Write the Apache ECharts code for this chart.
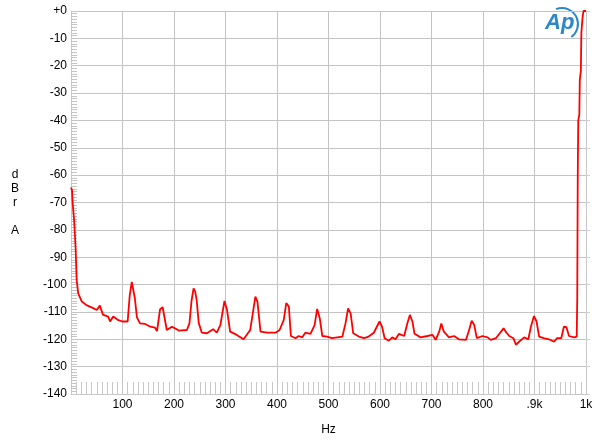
<!DOCTYPE html>
<html>
<head>
<meta charset="utf-8">
<script src="https://cdn.jsdelivr.net/npm/echarts@6/dist/echarts.min.js"></script>
<style>html,body{margin:0;padding:0;background:#fff;}#c{width:600px;height:441px;}</style>
</head>
<body>
<div id="c"></div>
<script>
var freqHz = [0,2,3,5,6,8,9,11,14,21,30,43,50,56,62,72,76,82,92,100,110,114,118,121,124,128,134,144,154,163,167,173,178,181,186,196,202,209,225,230,234,238,241,244,248,254,264,276,283,290,298,303,309,322,335,348,353,358,362,368,381,397,405,413,418,423,427,436,442,449,455,465,473,478,483,488,497,507,517,527,533,538,543,548,559,569,578,588,599,604,609,617,624,630,637,647,653,658,663,667,679,692,702,708,715,719,724,734,744,753,767,773,778,783,788,799,809,815,825,835,840,844,851,859,864,870,880,888,893,899,904,909,918,928,938,944,952,957,962,967,977,982,983,984,985,987,988,990,991,993,995,1000];
var levelDb = [-64.5,-65.5,-69.7,-70,-76.4,-77,-86.7,-98.3,-103.2,-106.2,-107.5,-108.6,-109.3,-107.7,-111,-111.7,-113.5,-111.7,-113,-113.5,-113.5,-104,-99,-99.5,-105,-112,-114.2,-114.4,-115.4,-115.7,-117,-109,-108.3,-109,-116.6,-115.4,-116,-116.8,-116.6,-114.2,-106,-101.4,-102.5,-105.6,-114,-117.6,-117.8,-116.3,-117.6,-114.8,-106,-109.3,-117.2,-118.4,-120,-116.6,-110.5,-104.4,-106.2,-117.2,-117.6,-117.6,-116.6,-113,-106.8,-108,-118.8,-119.6,-118.8,-119.3,-117.6,-118,-114.8,-108.9,-112.3,-118.8,-119,-119.6,-119.3,-119,-114.2,-108.7,-110.5,-117.8,-119,-119.6,-119,-117.6,-113.5,-115.4,-119.6,-120.5,-119.3,-120,-118,-118.8,-114.2,-111.1,-113.5,-118,-119.3,-118.8,-118.4,-120.2,-117.2,-114.2,-117.2,-119.3,-118.8,-120,-120.2,-116.6,-113.2,-114.8,-119.6,-118.8,-119.3,-120.2,-119.6,-117.2,-116,-117.2,-118.8,-119.6,-122,-120.9,-119.3,-120,-115.4,-111.5,-113.5,-119,-119.6,-120,-120.9,-119.6,-119.6,-115.4,-115.6,-118.8,-119.3,-119,-105,-60,-40,-38,-25,-22,-8,-3,0,0];
var xTicks = {100:'100',200:'200',300:'300',400:'400',500:'500',600:'600',700:'700',800:'800',900:'.9k',1000:'1k'};
var yTickLabel0 = '+0';

var data = freqHz.map(function(f,i){return [f, levelDb[i]];});
var chart = echarts.init(document.getElementById('c'), null, {renderer:'canvas'});
var font = 'Liberation Sans, Arial, sans-serif';
chart.setOption({
  animation:false,
  backgroundColor:'#fff',
  grid:{left:71,right:14,top:11,bottom:47,containLabel:false},
  xAxis:{
    type:'value',min:0,max:1000,interval:100,
    name:'Hz',nameLocation:'middle',nameGap:30,
    nameTextStyle:{color:'#000',fontSize:12,fontFamily:font},
    axisLine:{show:true,onZero:false,lineStyle:{color:'#c8c8c8',width:1}},
    axisTick:{show:false,inside:true},
    minorTick:{show:true,splitNumber:10,length:12,lineStyle:{color:'#c8c8c8',width:1}},
    axisLabel:{color:'#000',fontSize:12,fontFamily:font,margin:5,
      formatter:function(v){return xTicks[v]||'';}},
    splitLine:{show:true,lineStyle:{color:'#c4c4c4',width:1}},
    minorSplitLine:{show:false}
  },
  yAxis:[{
    type:'value',min:-140,max:0,interval:10,
    axisLine:{show:true,onZero:false,lineStyle:{color:'#c8c8c8',width:1}},
    axisTick:{show:false,inside:true},
    minorTick:{show:true,splitNumber:10,length:6,lineStyle:{color:'#c4c4c4',width:1}},
    axisLabel:{color:'#000',fontSize:12,fontFamily:font,margin:4,
      formatter:function(v){return v===0?yTickLabel0:String(v);}},
    splitLine:{show:true,lineStyle:{color:'#c4c4c4',width:1}}
  },{
    type:'value',min:-140,max:0,interval:10,position:'right',
    axisLine:{show:true,onZero:false,lineStyle:{color:'#c8c8c8',width:1}},
    axisTick:{show:true,inside:false,length:4,lineStyle:{color:'#d0d0d0'}},
    axisLabel:{show:false},splitLine:{show:false}
  }],
  series:[{
    type:'line',data:data,showSymbol:false,symbol:'none',
    lineStyle:{color:'#ff0000',width:1.8},
    clip:true,z:5
  }],
  graphic:[
    {type:'text',left:11,top:168,style:{text:'d\nB\nr\n\nA',fill:'#000',font:'12px '+font,lineHeight:14,textAlign:'center'}},
    {type:'text',left:545,top:12,style:{text:'Ap',fill:'#2a88c8',font:'italic bold 22px '+font}},
    {type:'arc',shape:{cx:562,cy:24,r:16,startAngle:-1.95,endAngle:0.95,clockwise:true},style:{stroke:'#2a88c8',lineWidth:2,fill:null}}
  ]
});
</script>
</body>
</html>
